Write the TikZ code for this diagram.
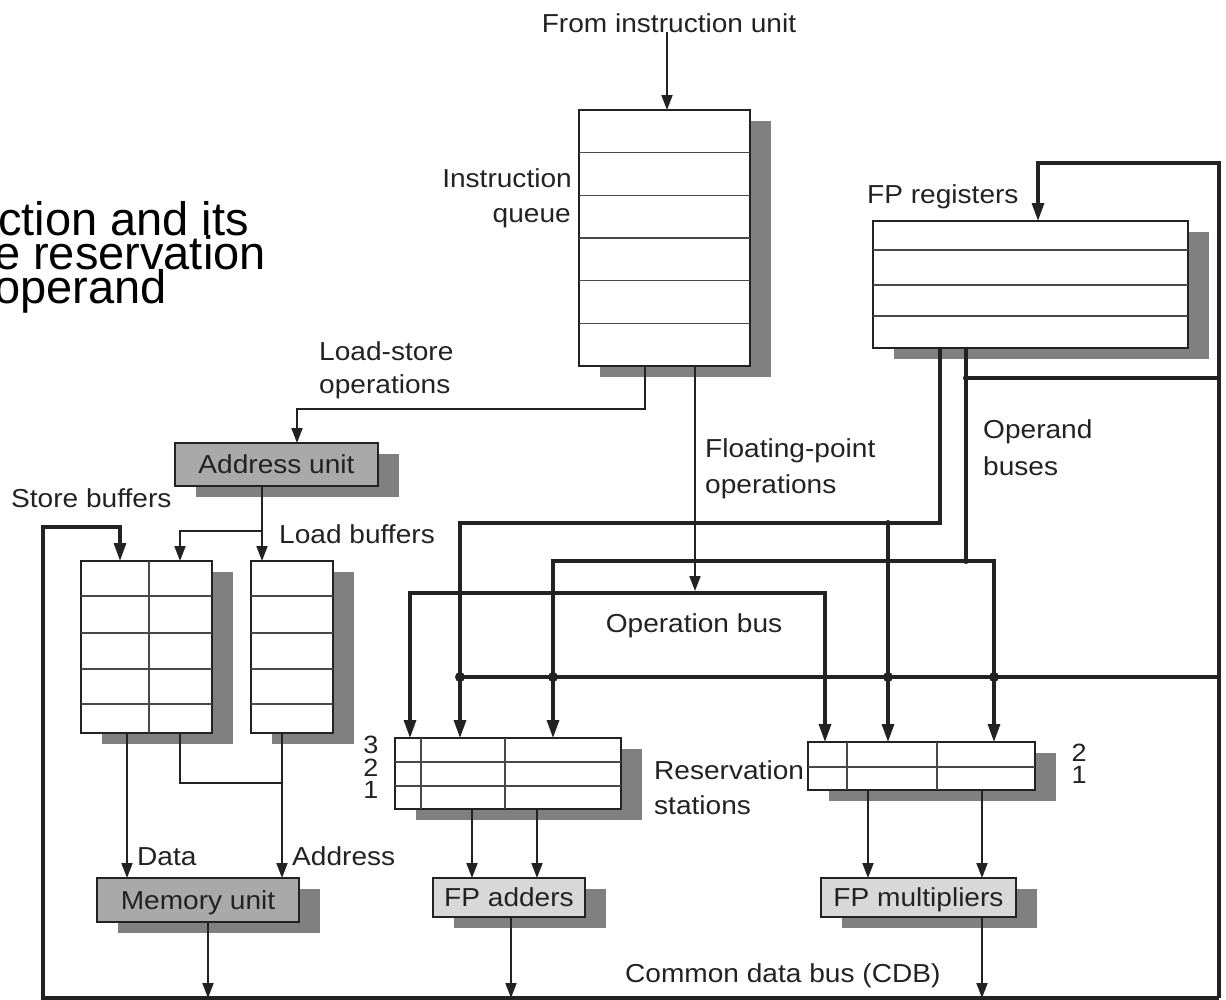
\documentclass[tikz,border=0pt]{standalone}
\usepackage{fontspec}
\setmainfont{Liberation Sans}[FakeStretch=1.08]
\newfontfamily\bigfont{Liberation Sans}
\usetikzlibrary{arrows.meta,shadows}
\definecolor{ink}{HTML}{222222}
\definecolor{rowline}{HTML}{484848}
\definecolor{shadowgray}{HTML}{808080}
\definecolor{unitgray}{HTML}{A9A9A9}
\definecolor{fpgray}{HTML}{D8D8D8}
\tikzset{
  lbl/.style={inner sep=0pt, font=\fontsize{26}{32}\selectfont, text=ink},
  numlbl/.style={inner sep=0pt, font=\fontsize{25}{30}\selectfont, text=ink},
  shadowed/.style={drop shadow={shadow xshift=21pt, shadow yshift=-11pt, fill=shadowgray, opacity=1}},
  regbox/.style={draw=ink, line width=1.8pt, fill=white, inner sep=0pt, outer sep=0pt, shadowed},
  unitbox/.style={regbox, fill=unitgray, font=\fontsize{26}{32}\selectfont, text=ink, text height=18.5pt, text depth=0pt},
  fpbox/.style={unitbox, fill=fpgray},
  row/.style={draw=rowline, line width=1.5pt},
  wire/.style={draw=ink, line width=1.9pt},
  bus/.style={draw=ink, line width=3.2pt},
  warrow/.style={wire, -{Triangle[width=11pt,length=15pt]}},
  barrow/.style={bus, -{Triangle[width=12pt,length=18pt]}},
  bigdot/.style={circle, fill=ink, inner sep=0pt, minimum size=10pt},
  smalldot/.style={circle, fill=ink, inner sep=0pt, minimum size=6pt},
  captxt/.style={inner sep=0pt, font=\bigfont\fontsize{47}{47}\selectfont, text=black},
}
\begin{document}
\begin{tikzpicture}[x=1pt,y=-1pt]
\useasboundingbox (0,0) rectangle (1226,999);

% clipped caption text at the left edge
\begin{scope}
\clip (0,0) rectangle (1226,999);
\node[captxt, anchor=base west] (cap1) at (-2,235) {ction and its};
\node[captxt, anchor=base east] (cap2) at (266,269) {e reservation};
\node[captxt, anchor=base west] (cap3) at (-6,303) {operand};
\end{scope}

% ---------- boxes ----------
\node[regbox, minimum width=171pt, minimum height=256pt] (iq) at (664.5,238) {};
\foreach \yy in {152.7,195.3,238,280.7,323.3} \draw[row] (iq.west |- 0,\yy) -- (iq.east |- 0,\yy);

\node[regbox, minimum width=315pt, minimum height=127pt] (fpr) at (1030.5,284.5) {};
\foreach \yy in {250,285,316} \draw[row] (fpr.west |- 0,\yy) -- (fpr.east |- 0,\yy);

\node[unitbox, minimum width=203pt, minimum height=43pt] (au) at (276.5,464.5) {Address unit};

\node[regbox, minimum width=131pt, minimum height=172pt] (sb) at (146.5,647) {};
\foreach \yy in {596,633,669,704} \draw[row] (sb.west |- 0,\yy) -- (sb.east |- 0,\yy);
\draw[row] (149,0 |- sb.north) -- (149,0 |- sb.south);

\node[regbox, minimum width=82pt, minimum height=172pt] (lb) at (292,647) {};
\foreach \yy in {596,633,669,704} \draw[row] (lb.west |- 0,\yy) -- (lb.east |- 0,\yy);

\node[regbox, minimum width=226pt, minimum height=71pt] (ars) at (508,773.5) {};
\foreach \yy in {762,786} \draw[row] (ars.west |- 0,\yy) -- (ars.east |- 0,\yy);
\foreach \xx in {421,505} \draw[row] (\xx,0 |- ars.north) -- (\xx,0 |- ars.south);

\node[regbox, minimum width=227pt, minimum height=48pt] (mrs) at (921.5,766) {};
\draw[row] (mrs.west |- 0,767) -- (mrs.east |- 0,767);
\foreach \xx in {847,937} \draw[row] (\xx,0 |- mrs.north) -- (\xx,0 |- mrs.south);

\node[unitbox, minimum width=202pt, minimum height=44pt] (mu) at (198,900) {Memory unit};
\node[fpbox, minimum width=152pt, minimum height=39pt] (fpa) at (509,897.5) {FP adders};
\node[fpbox, minimum width=195pt, minimum height=39pt] (fpm) at (918.5,897.5) {FP multipliers};

% ---------- labels ----------
\node[lbl, anchor=base] (fiu) at (669,32) {From instruction unit};
\node[lbl, anchor=base east] (iql1) at (572,187) {Instruction};
\node[lbl, anchor=base east] (iql2) at (571,222) {queue};
\node[lbl, anchor=base west] (fprl) at (867,203) {FP registers};
\node[lbl, anchor=base west] (lso1) at (319,360) {Load-store};
\node[lbl, anchor=base west] (lso2) at (319,393) {operations};
\node[lbl, anchor=base west] (fpo1) at (705,457) {Floating-point};
\node[lbl, anchor=base west] (fpo2) at (705,493) {operations};
\node[lbl, anchor=base west] (opb1) at (983,438) {Operand};
\node[lbl, anchor=base west] (opb2) at (983,475) {buses};
\node[lbl, anchor=base] (opbl) at (694,632) {Operation bus};
\node[lbl, anchor=base west] (sbl) at (11,507) {Store buffers};
\node[lbl, anchor=base west] (lbufl) at (279,543) {Load buffers};
\node[lbl, anchor=base west] (datal) at (137,865) {Data};
\node[lbl, anchor=base west] (addrl) at (292,865) {Address};
\node[lbl, anchor=base west] (rsl1) at (654,779) {Reservation};
\node[lbl, anchor=base west] (rsl2) at (654,814) {stations};
\node[lbl, anchor=base west] (cdbl) at (625,982) {Common data bus (CDB)};
\node[numlbl, anchor=base] (n3) at (371,753) {3};
\node[numlbl, anchor=base] (n2) at (371,776) {2};
\node[numlbl, anchor=base] (n1) at (371,798) {1};
\node[numlbl, anchor=base] (m2) at (1079,761) {2};
\node[numlbl, anchor=base] (m1) at (1079,783) {1};

% ---------- coordinates ----------
\coordinate (cdbR) at (1219,998);
\coordinate (cdbL) at (43,998);
\coordinate (opjoin) at (695,591);
\coordinate (lsbend) at (297,409);
\coordinate (aubranch) at (262,531);
\coordinate (sbjoin) at (282,783);
\coordinate (cdbtop) at (1219,163);
\coordinate (cdbleft) at (120,527);
\coordinate (opA) at (460,523);
\coordinate (opAb) at (888,523);
\coordinate (opB) at (966,561);
\coordinate (fbk) at (966,378);
\coordinate (cdbmidL) at (460,677);
\coordinate (cdbmidR) at (1219,677);
\coordinate (opbusR) at (825,593);

% ---------- thin connectors ----------
\draw[warrow] (667,0 |- fiu.south) -- (667,0 |- iq.north);
\draw[warrow] (645,0 |- iq.south) |- (lsbend) -- (297,0 |- au.north);
\draw[warrow] (695,0 |- iq.south) -- (opjoin);
\draw[warrow] (262,0 |- au.south) -- (262,0 |- lb.north);
\draw[warrow] (aubranch) -| (180,0 |- sb.north);
\draw[warrow] (127,0 |- sb.south) -- (127,0 |- mu.north);
\draw[wire] (180,0 |- sb.south) |- (sbjoin);
\draw[warrow] (282,0 |- lb.south) -- (282,0 |- mu.north);
\draw[warrow] (208,0 |- mu.south) -- (208,0 |- cdbL);
\draw[warrow] (472,0 |- ars.south) -- (472,0 |- fpa.north);
\draw[warrow] (537,0 |- ars.south) -- (537,0 |- fpa.north);
\draw[warrow] (511,0 |- fpa.south) -- (511,0 |- cdbL);
\draw[warrow] (868,0 |- mrs.south) -- (868,0 |- fpm.north);
\draw[warrow] (982,0 |- mrs.south) -- (982,0 |- fpm.north);
\draw[warrow] (982,0 |- fpm.south) -- (982,0 |- cdbL);

% ---------- common data bus ----------
\draw[barrow] (cdbR) -- (cdbtop) -| (1038,0 |- fpr.north);
\draw[barrow] (cdbR) -- (cdbL) |- (cdbleft) -- (120,0 |- sb.north);
\draw[bus] (cdbmidL) -- (cdbmidR);
\draw[bus] (fbk) -- (1219,378);

% ---------- operand buses ----------
\draw[barrow] (940,0 |- fpr.south) |- (opA) -- (460,0 |- ars.north);
\draw[barrow] (opAb) -- (888,0 |- mrs.north);
\draw[bus] (966,0 |- fpr.south) -- (opB);
\draw[barrow] (opB) -| (553,0 |- ars.north);
\draw[barrow] (opB) -| (994,0 |- mrs.north);

% ---------- operation bus ----------
\draw[bus, {Triangle[width=12pt,length=18pt]}-{Triangle[width=12pt,length=18pt]}] (410,0 |- ars.north) |- (opbusR) -- (825,0 |- mrs.north);

% ---------- junction dots ----------
\node[bigdot] (j1) at (460,677) {};
\node[bigdot] (j2) at (553,677) {};
\node[bigdot] (j3) at (888,677) {};
\node[bigdot] (j4) at (994,677) {};
\node[smalldot] (j5) at (opAb) {};
\node[smalldot] (j6) at (opB) {};
\node[smalldot] (j7) at (fbk) {};
\end{tikzpicture}
\end{document}
